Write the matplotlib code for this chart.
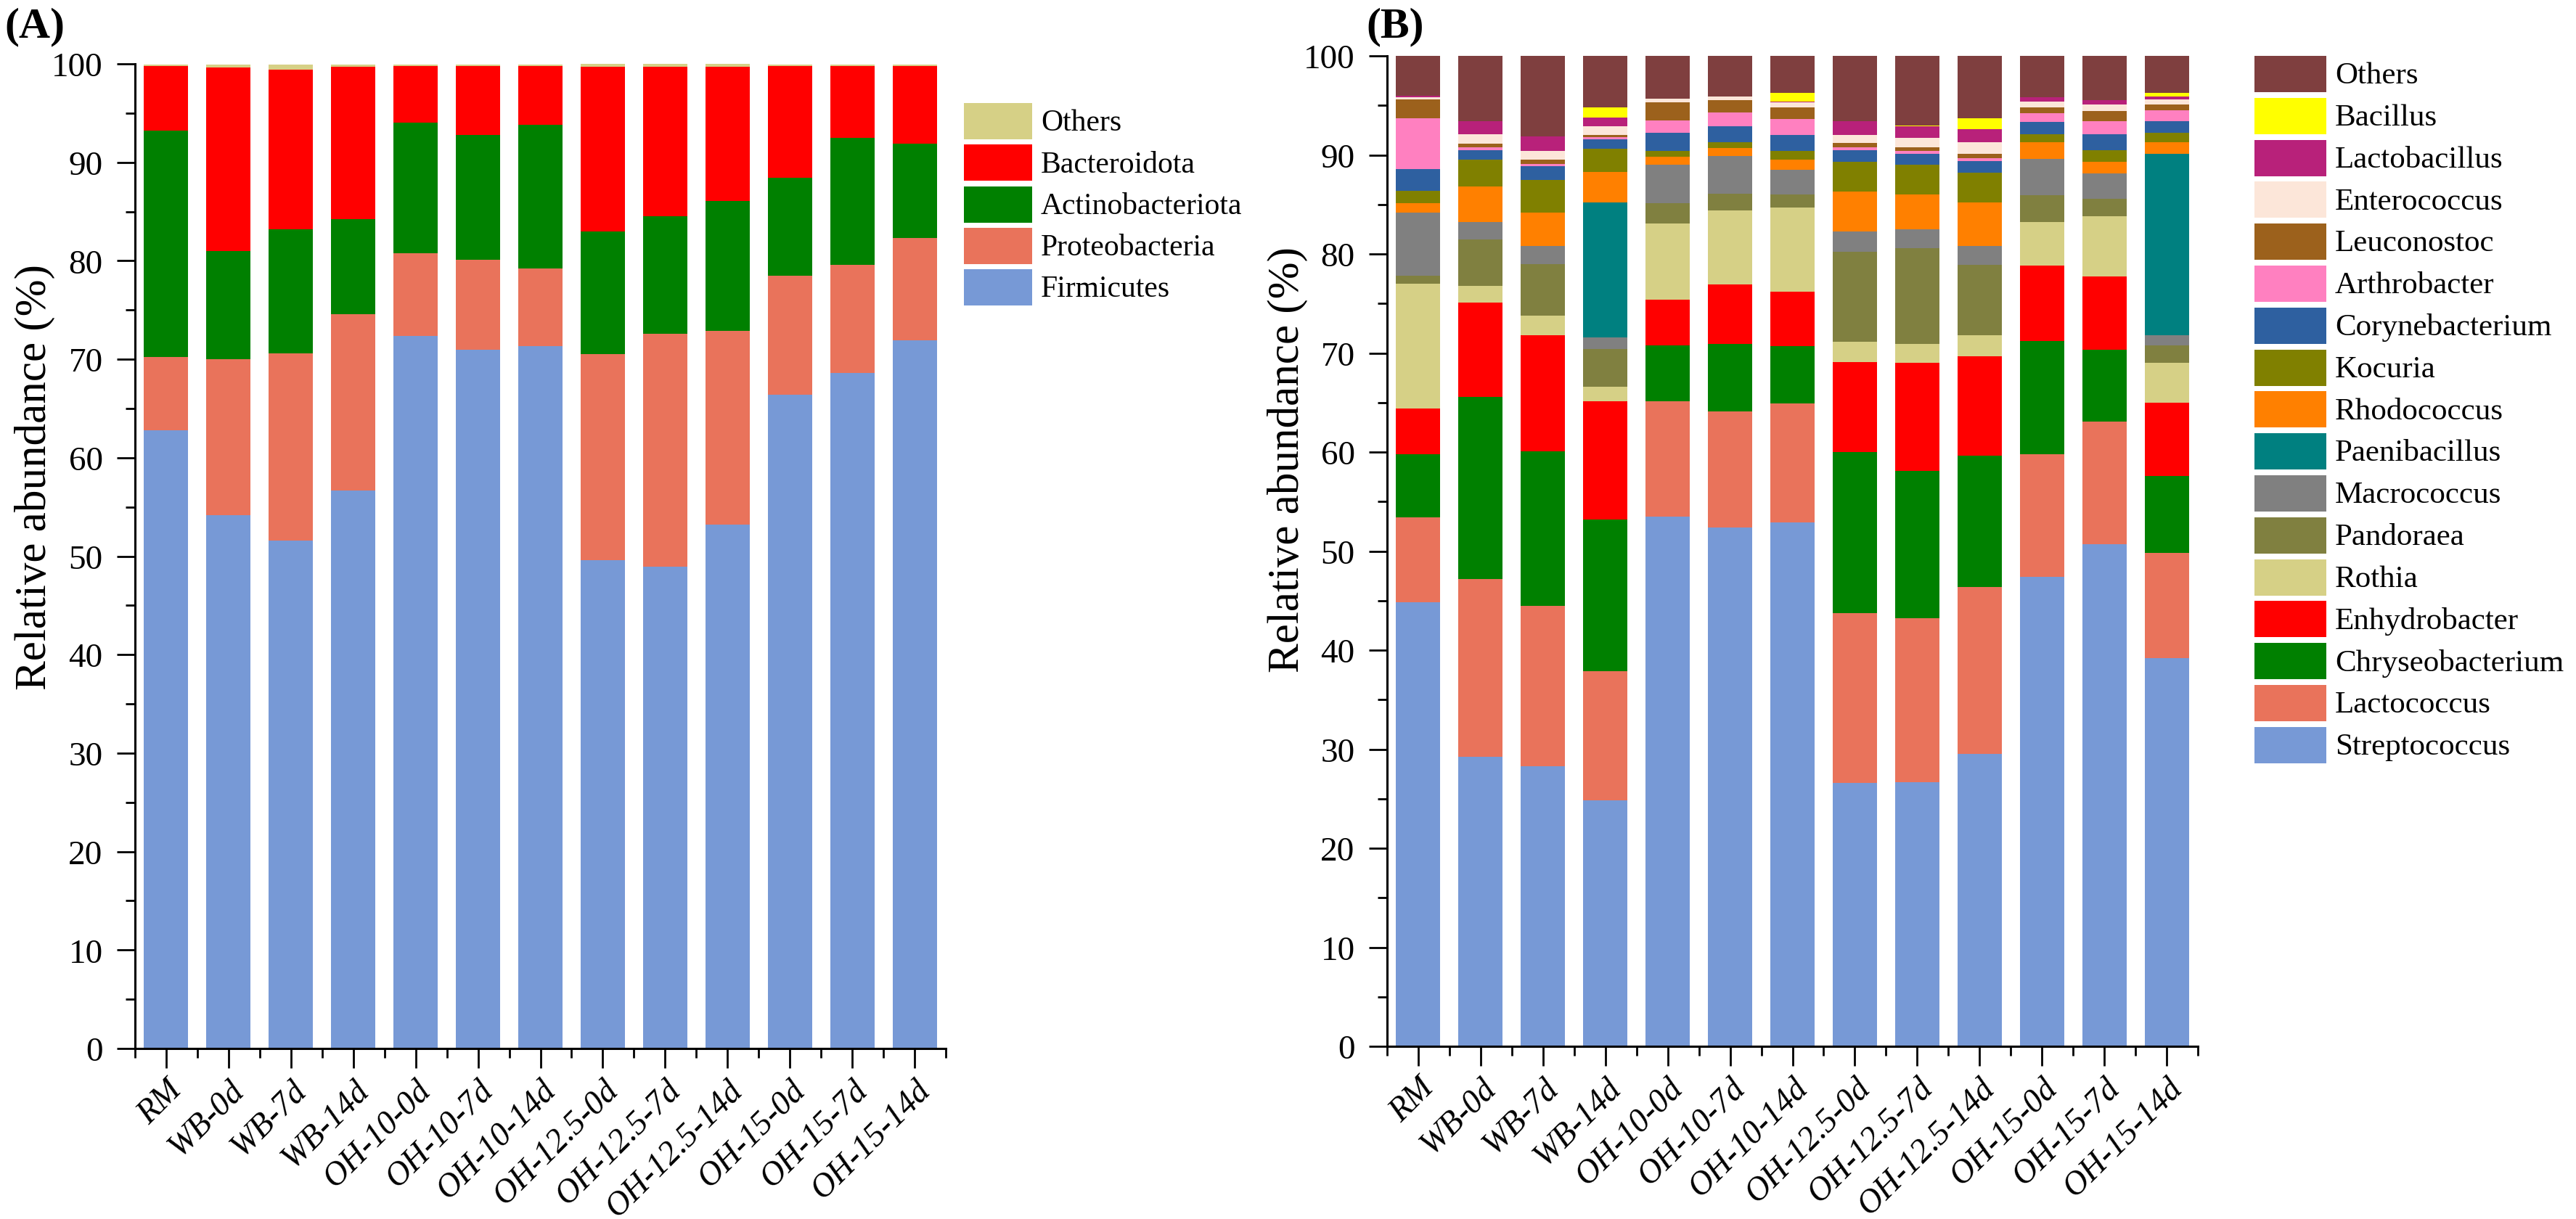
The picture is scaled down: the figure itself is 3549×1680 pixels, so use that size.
import numpy as np
import matplotlib
matplotlib.use("Agg")
import matplotlib.pyplot as plt
from matplotlib.patches import Rectangle
from matplotlib.transforms import ScaledTranslation

plt.rcParams['font.family'] = ['Liberation Serif', 'DejaVu Serif']

samples = ["RM", "WB-0d", "WB-7d", "WB-14d", "OH-10-0d", "OH-10-7d", "OH-10-14d",
           "OH-12.5-0d", "OH-12.5-7d", "OH-12.5-14d", "OH-15-0d", "OH-15-7d", "OH-15-14d"]

# ---- Panel A: phylum level (bottom -> top) ----
phyla = ["Firmicutes", "Proteobacteria", "Actinobacteriota", "Bacteroidota", "Others"]
firmicutes       = [62.8, 54.2, 51.6, 56.7, 72.4, 71.0, 71.3, 49.6, 48.9, 53.2, 66.4, 68.6, 71.9]
proteobacteria   = [7.4, 15.8, 19.0, 17.9, 8.4, 9.1, 7.9, 20.9, 23.7, 19.7, 12.1, 11.0, 10.4]
actinobacteriota = [23.0, 11.0, 12.6, 9.6, 13.2, 12.7, 14.6, 12.5, 11.9, 13.2, 9.9, 12.9, 9.6]
bacteroidota     = [6.6, 18.6, 16.2, 15.5, 5.8, 7.0, 6.0, 16.7, 15.2, 13.6, 11.4, 7.3, 7.9]
others_a         = [0.15, 0.35, 0.55, 0.25, 0.15, 0.15, 0.15, 0.3, 0.3, 0.3, 0.15, 0.15, 0.15]
phyla_colors = ["#7799D6", "#E9735B", "#008000", "#FF0000", "#D6D086"]

# ---- Panel B: genus level (bottom -> top) ----
genera = ["Streptococcus", "Lactococcus", "Chryseobacterium", "Enhydrobacter", "Rothia",
          "Pandoraea", "Macrococcus", "Paenibacillus", "Rhodococcus", "Kocuria",
          "Corynebacterium", "Arthrobacter", "Leuconostoc", "Enterococcus",
          "Lactobacillus", "Bacillus", "Others"]
streptococcus    = [44.8, 29.2, 28.3, 24.8, 53.5, 52.4, 52.9, 26.6, 26.7, 29.5, 47.4, 50.7, 39.2]
lactococcus      = [8.6, 18.0, 16.2, 13.1, 11.6, 11.7, 12.0, 17.1, 16.5, 16.9, 12.4, 12.4, 10.6]
chryseobacterium = [6.4, 18.4, 15.6, 15.3, 5.7, 6.8, 5.8, 16.3, 14.9, 13.2, 11.4, 7.2, 7.8]
enhydrobacter    = [4.6, 9.5, 11.7, 11.9, 4.6, 6.0, 5.5, 9.1, 10.9, 10.1, 7.6, 7.4, 7.4]
rothia           = [12.6, 1.7, 2.0, 1.5, 7.7, 7.5, 8.5, 2.0, 1.9, 2.1, 4.4, 6.1, 4.0]
pandoraea        = [0.8, 4.7, 5.2, 3.8, 2.0, 1.7, 1.3, 9.1, 9.7, 7.1, 2.7, 1.8, 1.8]
macrococcus      = [6.4, 1.7, 1.8, 1.2, 3.9, 3.8, 2.5, 2.1, 1.9, 1.9, 3.7, 2.5, 1.0]
paenibacillus    = [0, 0, 0, 13.6, 0, 0, 0, 0, 0, 0, 0, 0, 18.3]
rhodococcus      = [0.9, 3.6, 3.4, 3.1, 0.8, 0.8, 1.0, 4.0, 3.5, 4.4, 1.7, 1.2, 1.2]
kocuria          = [1.3, 2.7, 3.3, 2.3, 0.6, 0.6, 0.9, 3.0, 3.0, 3.0, 0.8, 1.2, 0.9]
corynebacterium  = [2.2, 1.0, 1.4, 1.0, 1.8, 1.6, 1.6, 1.2, 1.1, 1.2, 1.2, 1.6, 1.2]
arthrobacter     = [5.1, 0.3, 0.2, 0.2, 1.3, 1.4, 1.6, 0.3, 0.3, 0.3, 0.9, 1.3, 1.1]
leuconostoc      = [1.9, 0.3, 0.4, 0.2, 1.8, 1.2, 1.2, 0.4, 0.4, 0.4, 0.6, 1.0, 0.6]
enterococcus     = [0.2, 1.0, 0.9, 0.9, 0.4, 0.4, 0.5, 0.8, 0.9, 1.2, 0.6, 0.7, 0.5]
lactobacillus    = [0.2, 1.3, 1.5, 0.9, 0, 0, 0.1, 1.4, 1.2, 1.3, 0.4, 0.4, 0.3]
bacillus         = [0, 0, 0, 1.0, 0, 0, 0.9, 0, 0.1, 1.1, 0, 0, 0.4]
others_b         = [4.0, 6.6, 8.1, 5.2, 4.3, 4.1, 3.7, 6.6, 7.0, 6.3, 4.2, 4.5, 3.7]
genera_colors = ["#7799D6", "#E9735B", "#008000", "#FF0000", "#D6D086",
                 "#808040", "#808080", "#008080", "#FF8000", "#808000",
                 "#2E60A0", "#FF80C0", "#9C611C", "#FCE6D9",
                 "#B8217A", "#FFFF00", "#7F3F3F"]

series_a = [firmicutes, proteobacteria, actinobacteriota, bacteroidota, others_a]
series_b = [streptococcus, lactococcus, chryseobacterium, enhydrobacter, rothia,
            pandoraea, macrococcus, paenibacillus, rhodococcus, kocuria,
            corynebacterium, arthrobacter, leuconostoc, enterococcus,
            lactobacillus, bacillus, others_b]

W, H = 3549, 1681
fig = plt.figure(figsize=(W / 100, H / 100), dpi=100)


def px_rect(l, t, r, b):
    return [l / W, 1 - b / H, (r - l) / W, (b - t) / H]


def draw_panel(ax, series, colors):
    x = np.arange(len(samples))
    bottom = np.zeros(len(samples))
    for vals, c in zip(series, colors):
        v = np.array(vals, dtype=float)
        ax.bar(x, v, bottom=bottom, width=0.71, color=c, linewidth=0)
        bottom += v
    ax.set_xlim(-0.5, len(samples) - 0.5)
    ax.set_ylim(0, 100)
    ax.set_yticks(np.arange(0, 101, 10))
    ax.set_yticks(np.arange(5, 100, 10), minor=True)
    ax.set_xticks(x)
    ax.set_xticks(np.arange(-0.5, len(samples), 1), minor=True)
    ax.set_xticklabels(samples, rotation=45, ha='right', va='top',
                       rotation_mode='anchor', fontstyle='italic', fontsize=33)
    off = ScaledTranslation(0.34, -0.07, fig.dpi_scale_trans)
    for lab in ax.get_xticklabels():
        lab.set_transform(lab.get_transform() + off)
    for s in ['top', 'right']:
        ax.spines[s].set_visible(False)
    for s in ['left', 'bottom']:
        ax.spines[s].set_linewidth(2.2)
    ax.tick_params(axis='y', which='major', direction='out', length=18, width=2.0,
                   labelsize=34, pad=14)
    ax.tick_params(axis='y', which='minor', direction='out', length=9.5, width=2.0)
    ax.tick_params(axis='x', which='major', direction='out', length=19.5, width=2.0, pad=6)
    ax.tick_params(axis='x', which='minor', direction='out', length=9.5, width=2.0)


axA = fig.add_axes(px_rect(186, 89, 1303, 1446))
draw_panel(axA, series_a, phyla_colors)
axB = fig.add_axes(px_rect(1911, 78, 3028, 1443))
draw_panel(axB, series_b, genera_colors)

# y labels
fig.text(48 / W, 1 - 658 / H, "Relative abundance (%)", rotation=90,
         ha='center', va='center', fontsize=44)
fig.text(1774 / W, 1 - 634 / H, "Relative abundance (%)", rotation=90,
         ha='center', va='center', fontsize=44)

# panel labels
fig.text(6 / W, 1 - 10 / H, "(A)", fontsize=43, fontweight='bold', ha='left', va='top')
fig.text(1882 / W, 1 - 10 / H, "(B)", fontsize=43, fontweight='bold', ha='left', va='top')


def manual_legend(names, colors, x0, x1, y0, step, tx, fs):
    for i, (n, c) in enumerate(zip(names, colors)):
        top = y0 + i * step
        fig.add_artist(Rectangle((x0 / W, 1 - (top + 50) / H), (x1 - x0) / W, 50 / H,
                                 transform=fig.transFigure, facecolor=c, edgecolor='none'))
        fig.text(tx / W, 1 - (top + 27) / H, n, fontsize=fs, ha='left', va='center')


manual_legend(phyla[::-1], phyla_colors[::-1], 1328, 1422, 143, 57.3, 1434, 30)
manual_legend(genera[::-1], genera_colors[::-1], 3106, 3205, 78, 57.8, 3217, 31)

fig.savefig("out.png", dpi=100)
